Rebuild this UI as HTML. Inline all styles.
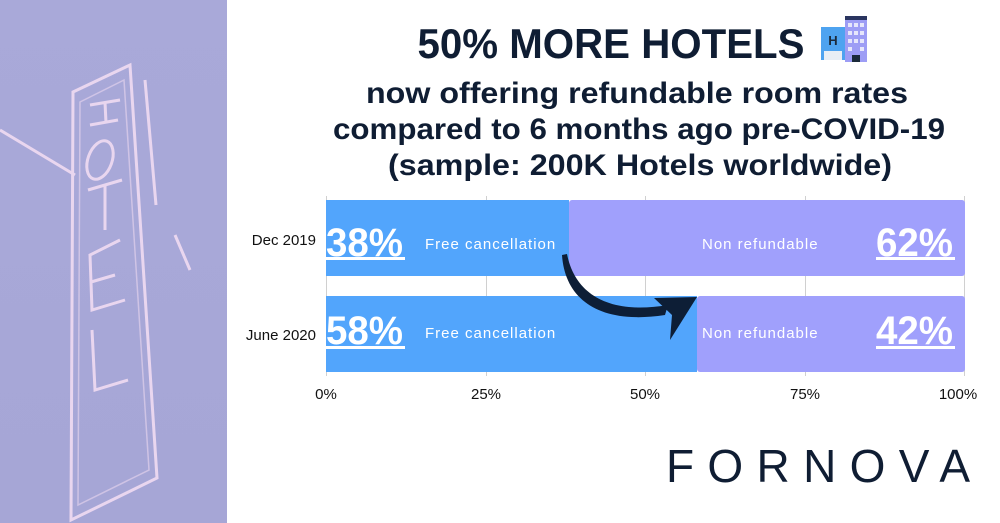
<!DOCTYPE html>
<html><head><meta charset="utf-8"><style>
body{margin:0;width:1000px;height:523px;overflow:hidden;background:#fff}
svg{display:block}
</style></head><body>
<svg width="1000" height="523" viewBox="0 0 1000 523" font-family="Liberation Sans, sans-serif">
<defs>
<linearGradient id="bg" x1="0" y1="0" x2="0" y2="1"><stop offset="0" stop-color="#a9a9d9"/><stop offset="1" stop-color="#a6a6d6"/></linearGradient>
</defs>
<rect x="0" y="0" width="227" height="523" fill="url(#bg)"/>
<g fill="none" stroke="#f1dcf2" stroke-width="3" opacity="0.9">
<polygon points="73,92 130,65 157,478 71,520"/>
<polygon points="80,102 124,80 149,470 78,505" stroke-width="1.5" opacity="0.6"/>
<path d="M145,80 L156,205"/>
<path d="M0,130 L75,175" stroke-width="3"/>
<path d="M90,105 L120,100 M90,125 L118,120 M105,102 L106,123"/>
<ellipse cx="100" cy="160" rx="12" ry="20" transform="rotate(20 100 160)"/>
<path d="M88,190 L122,180 M105,185 L105,230"/>
<path d="M120,240 L90,255 L92,310 L125,300 M91,282 L115,275"/>
<path d="M92,330 L95,390 L128,380"/>
<path d="M175,235 L190,270"/>
</g>
<g fill="#0f1d33" font-weight="bold" text-anchor="middle">
<text x="611" y="58" font-size="42" textLength="387" lengthAdjust="spacingAndGlyphs">50% MORE HOTELS</text>
<text x="637" y="103" font-size="30" textLength="542" lengthAdjust="spacingAndGlyphs">now offering refundable room rates</text>
<text x="639" y="139" font-size="30" textLength="612" lengthAdjust="spacingAndGlyphs">compared to 6 months ago pre-COVID-19</text>
<text x="640" y="175" font-size="30" textLength="504" lengthAdjust="spacingAndGlyphs">(sample: 200K Hotels worldwide)</text>
</g>
<rect x="821" y="27" width="24" height="33" fill="#4ea3f0"/>
<rect x="824" y="51" width="18" height="9" fill="#e8eef5"/>
<text x="833" y="45" font-size="13" font-weight="bold" text-anchor="middle" fill="#1b2a3a">H</text>
<rect x="845" y="18" width="22" height="44" fill="#9d9df5"/>
<rect x="845" y="16" width="22" height="4" fill="#2a3560"/>
<g fill="#e6e6fb"><rect x="848" y="23" width="4" height="4"/><rect x="854" y="23" width="4" height="4"/><rect x="860" y="23" width="4" height="4"/><rect x="848" y="31" width="4" height="4"/><rect x="854" y="31" width="4" height="4"/><rect x="860" y="31" width="4" height="4"/><rect x="848" y="39" width="4" height="4"/><rect x="854" y="39" width="4" height="4"/><rect x="860" y="39" width="4" height="4"/><rect x="848" y="47" width="4" height="4"/><rect x="860" y="47" width="4" height="4"/></g>
<rect x="852" y="55" width="8" height="7" fill="#1b2a3a"/>
<g stroke="#d0d0d0" stroke-width="1">
<line x1="326.5" y1="196" x2="326.5" y2="376"/>
<line x1="486.5" y1="196" x2="486.5" y2="376"/>
<line x1="645.5" y1="196" x2="645.5" y2="376"/>
<line x1="805.5" y1="196" x2="805.5" y2="376"/>
<line x1="964.5" y1="196" x2="964.5" y2="376"/>
</g>
<rect x="326" y="200" width="243" height="76" fill="#52a5fc"/>
<rect x="569" y="200" width="396" height="76" rx="3" fill="#a0a0fc"/>
<rect x="326" y="296" width="371" height="76" fill="#52a5fc"/>
<rect x="697" y="296" width="268" height="76" rx="3" fill="#a0a0fc"/>
<g fill="#fff">
<g font-size="40" font-weight="bold">
<text x="326" y="256" textLength="77" lengthAdjust="spacingAndGlyphs">38%</text>
<text x="326" y="344" textLength="77" lengthAdjust="spacingAndGlyphs">58%</text>
<text x="876" y="256" textLength="77" lengthAdjust="spacingAndGlyphs">62%</text>
<text x="876" y="344" textLength="77" lengthAdjust="spacingAndGlyphs">42%</text>
</g>
<rect x="326" y="257" width="79" height="3"/>
<rect x="326" y="346" width="79" height="3"/>
<rect x="876" y="257" width="79" height="3"/>
<rect x="876" y="346" width="79" height="3"/>
<g font-size="15" letter-spacing="1">
<text x="425" y="249">Free cancellation</text>
<text x="425" y="338">Free cancellation</text>
<text x="702" y="249">Non refundable</text>
<text x="702" y="338">Non refundable</text>
</g>
</g>
<g font-size="15" fill="#111">
<text x="316" y="245" text-anchor="end">Dec 2019</text>
<text x="316" y="340" text-anchor="end">June 2020</text>
<g text-anchor="middle"><text x="326" y="399">0%</text><text x="486" y="399">25%</text><text x="645" y="399">50%</text><text x="805" y="399">75%</text><text x="958" y="399">100%</text></g>
</g>
<path d="M562,255 C565,300 600,325 665,315 L668,305 C610,315 575,295 567,254 Z" fill="#0d1e36"/>
<polygon points="654,298 697,297 670,340 672,315" fill="#0d1e36"/>
<text x="666" y="482" font-size="46" fill="#0f1d33" textLength="304" lengthAdjust="spacing">FORNOVA</text>
</svg>
</body></html>
